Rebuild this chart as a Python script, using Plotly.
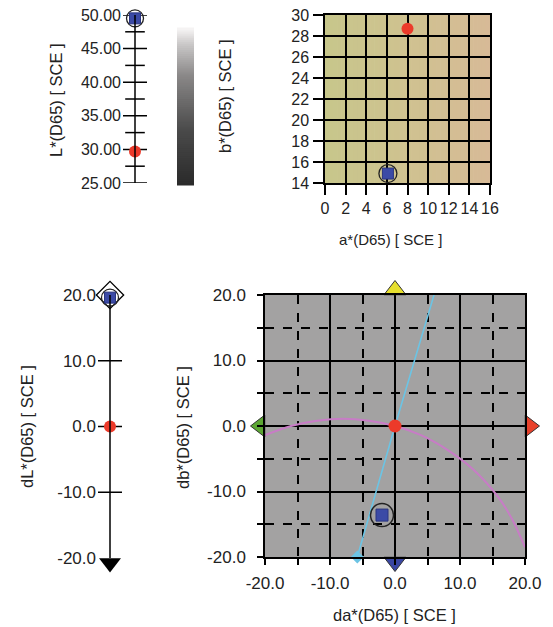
import plotly.graph_objects as go

W, H = 553, 627
OFF = 8                      # page body margin in the browser
FW, FH = W - OFF, H - OFF    # figure size

# ---------------- data ----------------
L_values = [49.5, 29.7]            # sample (blue), standard (red)
L_major = [25, 30, 35, 40, 45, 50]
L_minor = [27.5, 32.5, 37.5, 42.5, 47.5]
L_labels = ["25.00", "30.00", "35.00", "40.00", "45.00", "50.00"]

a_std, b_std = 8.0, 28.7
a_smp, b_smp = 6.1, 14.9
a_ticks = [0, 2, 4, 6, 8, 10, 12, 14, 16]
b_ticks = [14, 16, 18, 20, 22, 24, 26, 28, 30]

dL_std, dL_smp = 0.0, 19.6
dL_major = [-10, 0, 10]
dL_labels_v = [-20, -10, 0, 10, 20]
dL_labels = ["-20.0", "-10.0", "0.0", "10.0", "20.0"]

da_smp, db_smp = -2.0, -13.6
d_ticks = [-20, -10, 0, 10, 20]
d_labels = ["-20.0", "-10.0", "0.0", "10.0", "20.0"]
arc_da = [-20, -16, -12, -8, -4, 0, 4, 8, 12, 16, 18, 20]
arc_db = [-1.4, 0.0, 0.8, 1.1, 0.8, 0.0, -1.4, -3.6, -6.6, -11.0, -14.2, -18.5]
hue_da = [-5.8, 0, 6.0]
hue_db = [-20, 0, 20]
dir_da = [0, 0, -20, 20]
dir_db = [20, -20, 0, 0]
dir_colors = ["#e6df2e", "#3a46a3", "#5ca733", "#e8412b"]
dir_angles = [180, 0, 90, 270]   # triangle-down rotated: up, down, left, right

# ---------------- helpers (layout only) ----------------
def px(x):
    return (x - OFF) / FW

def py(y):
    return 1 - (y - OFF) / FH

def dx(a, b):
    return [px(a), px(b)]

def dy(top, bottom):
    return [py(bottom), py(top)]

FONT = "Liberation Sans, Arial, sans-serif"
TXT = "#222222"
RED = "#ec3a2a"
BLUE = "#3b4aa6"
RING = "#222222"

fig = go.Figure()

# ---------- panel 1 : L* ----------
fig.add_shape(type="line", xref="x", yref="y", x0=0, x1=0, y0=min(L_major), y1=max(L_major),
              line=dict(color="black", width=1.5))
fig.add_trace(go.Scatter(x=[0] * len(L_major), y=L_major, mode="markers", xaxis="x", yaxis="y",
                         marker=dict(symbol="line-ew", size=24, line=dict(color="black", width=1.5)),
                         hoverinfo="skip"))
fig.add_trace(go.Scatter(x=[0] * len(L_minor), y=L_minor, mode="markers", xaxis="x", yaxis="y",
                         marker=dict(symbol="line-ew", size=14, line=dict(color="black", width=1.5)),
                         hoverinfo="skip"))
fig.add_trace(go.Scatter(x=[0], y=[L_values[1]], mode="markers", xaxis="x", yaxis="y",
                         marker=dict(symbol="circle", size=12, color=RED), cliponaxis=False))
fig.add_trace(go.Scatter(x=[0], y=[L_values[0]], mode="markers", xaxis="x", yaxis="y",
                         marker=dict(symbol="circle-open", size=17, color=RING, line=dict(width=1.3)),
                         cliponaxis=False))
fig.add_trace(go.Scatter(x=[0], y=[L_values[0]], mode="markers", xaxis="x", yaxis="y",
                         marker=dict(symbol="square", size=11, color=BLUE, line=dict(color="#2a3580", width=1)),
                         cliponaxis=False))

# ---------- colour bar (gradient strips) ----------
def hex2rgb(h):
    h = h.lstrip("#")
    return [int(h[i:i + 2], 16) for i in (0, 2, 4)]

def mix(stops, t):
    for i in range(len(stops) - 1):
        t0, c0 = stops[i]
        t1, c1 = stops[i + 1]
        if t0 <= t <= t1:
            f = (t - t0) / (t1 - t0) if t1 > t0 else 0
            a, b = hex2rgb(c0), hex2rgb(c1)
            return "rgb(%d,%d,%d)" % tuple(round(a[k] + (b[k] - a[k]) * f) for k in range(3))
    return stops[-1][1]

cb_stops = [(0, "#2a2a2a"), (0.35, "#4a4a4a"), (0.7, "#8a8888"), (0.9, "#cac8c8"), (1, "#f8f6f6")]
cb_top, cb_bot, cb_l, cb_r = 28, 185, 177, 194
n = 80
for i in range(n):
    t0 = cb_bot - (cb_bot - cb_top) * i / n
    t1 = cb_bot - (cb_bot - cb_top) * (i + 1) / n
    fig.add_shape(type="rect", xref="paper", yref="paper", x0=px(cb_l), x1=px(cb_r),
                  y0=py(t0 + 0.5), y1=py(t1 - 0.5),
                  fillcolor=mix(cb_stops, (i + 0.5) / n), line=dict(width=0), layer="below")

# ---------- panel 2 : a* b* ----------
bg_stops = [(0, "#c7c68b"), (0.5, "#cfc290"), (1, "#d7ba97")]
m = 40
for i in range(m):
    fig.add_shape(type="rect", xref="x2 domain", yref="y2 domain",
                  x0=i / m - 0.002, x1=(i + 1) / m + 0.002, y0=0, y1=1,
                  fillcolor=mix(bg_stops, (i + 0.5) / m), line=dict(width=0), layer="below")
fig.add_trace(go.Scatter(x=[a_std], y=[b_std], mode="markers", xaxis="x2", yaxis="y2",
                         marker=dict(symbol="circle", size=12, color=RED)))
fig.add_trace(go.Scatter(x=[a_smp], y=[b_smp], mode="markers", xaxis="x2", yaxis="y2",
                         marker=dict(symbol="circle-open", size=18, color=RING, line=dict(width=1.3)),
                         cliponaxis=False))
fig.add_trace(go.Scatter(x=[a_smp], y=[b_smp], mode="markers", xaxis="x2", yaxis="y2",
                         marker=dict(symbol="square", size=11, color=BLUE, line=dict(color="#2a3580", width=1)),
                         cliponaxis=False))

# ---------- panel 3 : dL* ----------
fig.add_shape(type="line", xref="x3", yref="y3", x0=0, x1=0, y0=-20, y1=20,
              line=dict(color="black", width=1.5))
fig.add_trace(go.Scatter(x=[0] * len(dL_major), y=dL_major, mode="markers", xaxis="x3", yaxis="y3",
                         marker=dict(symbol="line-ew", size=24, line=dict(color="black", width=1.5)),
                         hoverinfo="skip"))
fig.add_trace(go.Scatter(x=[0], y=[dL_labels_v[0]], mode="markers", xaxis="x3", yaxis="y3",
                         marker=dict(symbol="triangle-down", angle=0, standoff=5, size=19, color="black"),
                         cliponaxis=False))
fig.add_trace(go.Scatter(x=[0], y=[dL_labels_v[-1]], mode="markers", xaxis="x3", yaxis="y3",
                         marker=dict(symbol="diamond", size=21, color="white", line=dict(color="black", width=1.3)),
                         cliponaxis=False))
fig.add_trace(go.Scatter(x=[0], y=[dL_std], mode="markers", xaxis="x3", yaxis="y3",
                         marker=dict(symbol="circle", size=12, color=RED)))
fig.add_trace(go.Scatter(x=[0], y=[dL_smp], mode="markers", xaxis="x3", yaxis="y3",
                         marker=dict(symbol="circle-open", size=17, color=RING, line=dict(width=1.3)),
                         cliponaxis=False))
fig.add_trace(go.Scatter(x=[0], y=[dL_smp], mode="markers", xaxis="x3", yaxis="y3",
                         marker=dict(symbol="square", size=11, color=BLUE, line=dict(color="#2a3580", width=1)),
                         cliponaxis=False))

# ---------- panel 4 : da* db* ----------
fig.add_shape(type="rect", xref="x4 domain", yref="y4 domain", x0=0, x1=1, y0=0, y1=1,
              fillcolor="#a3a2a2", line=dict(width=0), layer="below")
fig.add_trace(go.Scatter(x=arc_da, y=arc_db, mode="lines", xaxis="x4", yaxis="y4",
                         line=dict(color="#c87cc6", width=2, shape="spline")))
fig.add_trace(go.Scatter(x=hue_da, y=hue_db, mode="lines", xaxis="x4", yaxis="y4",
                         line=dict(color="#6cc4e4", width=1.6)))
fig.add_trace(go.Scatter(x=[hue_da[0]], y=[hue_db[0]], mode="markers", xaxis="x4", yaxis="y4",
                         marker=dict(symbol="diamond", size=10, color="#6cc4e4"), cliponaxis=False))
fig.add_trace(go.Scatter(x=[0], y=[0], mode="markers", xaxis="x4", yaxis="y4",
                         marker=dict(symbol="circle", size=13, color=RED)))
fig.add_trace(go.Scatter(x=[da_smp], y=[db_smp], mode="markers", xaxis="x4", yaxis="y4",
                         marker=dict(symbol="circle-open", size=23, color=RING, line=dict(width=1.5))))
fig.add_trace(go.Scatter(x=[da_smp], y=[db_smp], mode="markers", xaxis="x4", yaxis="y4",
                         marker=dict(symbol="square", size=12, color=BLUE, line=dict(color="#2a3580", width=1))))
fig.add_trace(go.Scatter(x=dir_da, y=dir_db, mode="markers", xaxis="x4", yaxis="y4",
                         marker=dict(symbol="triangle-down", angle=dir_angles, standoff=5, size=19,
                                     color=dir_colors, line=dict(color="#333", width=1)),
                         cliponaxis=False))

# ---------------- layout ----------------
tickfont = dict(family=FONT, size=17, color=TXT)
tickfont1 = dict(family=FONT, size=16, color=TXT)
tickfont2 = dict(family=FONT, size=16, color=TXT)
hidden = dict(visible=False, range=[-1, 1], fixedrange=True, automargin=False)
grid_ax = dict(showgrid=True, gridcolor="black", gridwidth=1.5, zeroline=False,
               showline=True, linecolor="black", linewidth=1.5, mirror=True,
               ticks="outside", tickcolor="black", tickwidth=1.5, automargin=False,
               ticklabeloverflow="allow")
minor = dict(dtick=5, tick0=0, showgrid=True, gridcolor="black", gridwidth=1.5, griddash="dash",
             ticks="outside", ticklen=6, tickcolor="black", tickwidth=1.5)

fig.update_layout(
    width=FW, height=FH, margin=dict(l=0, r=0, t=0, b=0, autoexpand=False),
    paper_bgcolor="white", plot_bgcolor="rgba(0,0,0,0)", showlegend=False,
    font=dict(family=FONT, color=TXT),
    xaxis=dict(domain=dx(123, 147), anchor="y", **hidden),
    yaxis=dict(domain=dy(15, 183), anchor="x", range=[25, 50], tickvals=L_major, ticktext=L_labels,
               showgrid=False, zeroline=False, showline=False, ticks="", tickfont=tickfont1,
               ticklabelstandoff=1, automargin=False, ticklabeloverflow="allow"),
    xaxis2=dict(domain=dx(325, 490), anchor="y2", range=[0, 16], tickvals=a_ticks,
                ticklen=10, tickfont=tickfont2, tickangle=0, **grid_ax),
    yaxis2=dict(domain=dy(15, 183), anchor="x2", range=[14, 30], tickvals=b_ticks,
                ticklen=10, tickfont=tickfont2, ticklabelstandoff=1, **grid_ax),
    xaxis3=dict(domain=dx(98, 122), anchor="y3", **hidden),
    yaxis3=dict(domain=dy(295, 558), anchor="x3", range=[-20, 20], tickvals=dL_labels_v, ticktext=dL_labels,
                showgrid=False, zeroline=False, showline=False, ticks="", tickfont=tickfont,
                ticklabelstandoff=1, automargin=False, ticklabeloverflow="allow"),
    xaxis4=dict(domain=dx(265, 525), anchor="y4", range=[-20, 20], tickvals=d_ticks, ticktext=d_labels,
                ticklen=6, tickfont=tickfont, ticklabelstandoff=4, minor=minor, **grid_ax),
    yaxis4=dict(domain=dy(295, 557), anchor="x4", range=[-20, 20], tickvals=d_ticks, ticktext=d_labels,
                ticklen=6, tickfont=tickfont, ticklabelstandoff=8, minor=minor, **grid_ax),
)

titles = [
    ("L*(D65) [ SCE ]", 56, 100, -90, 16.5),
    ("b*(D65) [ SCE ]", 225, 96, -90, 16.5),
    ("a*(D65) [ SCE ]", 390, 240, 0, 15),
    ("dL*(D65) [ SCE ]", 27, 427, -90, 16.5),
    ("db*(D65) [ SCE ]", 183, 428, -90, 16.5),
    ("da*(D65) [ SCE ]", 394, 615, 0, 16.5),
]
for text, x, y, ang, fs in titles:
    fig.add_annotation(text=text, x=px(x), y=py(y), xref="paper", yref="paper",
                       showarrow=False, textangle=ang, xanchor="center", yanchor="middle",
                       font=dict(family=FONT, size=fs, color=TXT))

fig.write_html("out.html")
